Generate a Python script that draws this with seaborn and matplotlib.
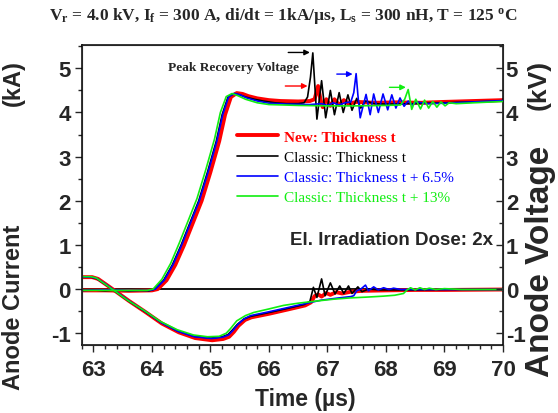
import matplotlib
matplotlib.use("Agg")
import matplotlib.pyplot as plt
import seaborn as sns
import numpy as np
import pandas as pd

# ---------------- data ----------------
# Anode voltage (kV) traces
t_v_red = [62.81, 63.2, 63.6, 64.0, 64.1, 64.25, 64.4, 64.55, 64.7, 64.85, 65.0, 65.15, 65.25, 65.35, 65.45, 65.55, 65.65, 65.8, 66.0, 66.2, 66.5, 66.7, 66.78, 66.84, 66.88, 66.92, 66.98, 67.05, 67.12, 67.2, 67.28, 67.36, 67.5, 67.8, 68.2, 68.6, 69.0, 69.5, 70.0]
v_red = [-0.03, -0.03, -0.04, -0.03, 0.0, 0.2, 0.55, 1.0, 1.5, 2.0, 2.65, 3.35, 3.95, 4.35, 4.44, 4.42, 4.37, 4.32, 4.28, 4.26, 4.25, 4.26, 4.3, 4.6, 4.3, 4.12, 4.3, 4.15, 4.3, 4.17, 4.28, 4.2, 4.24, 4.22, 4.23, 4.22, 4.24, 4.26, 4.28]

t_v_black = [62.81, 63.0, 63.2, 63.4, 63.6, 63.8, 63.95, 64.05, 64.2, 64.35, 64.5, 64.65, 64.8, 64.95, 65.1, 65.2, 65.3, 65.4, 65.5, 65.6, 65.75, 65.9, 66.1, 66.3, 66.5, 66.6, 66.66, 66.71, 66.75, 66.82, 66.90, 66.97, 67.05, 67.12, 67.20, 67.27, 67.35, 67.42, 67.50, 67.57, 67.65, 67.8, 68.0, 68.5, 69.0, 69.5, 70.0]
v_black = [-0.03, -0.02, -0.04, -0.02, -0.04, -0.03, -0.04, 0.0, 0.2, 0.55, 1.0, 1.5, 2.0, 2.65, 3.35, 3.95, 4.35, 4.43, 4.4, 4.35, 4.3, 4.26, 4.22, 4.2, 4.2, 4.22, 4.35, 4.8, 5.35, 3.85, 4.72, 3.88, 4.5, 3.95, 4.45, 4.0, 4.4, 4.05, 4.32, 4.1, 4.26, 4.2, 4.19, 4.2, 4.22, 4.24, 4.26]

t_v_blue = [62.81, 63.2, 63.6, 63.96, 64.06, 64.21, 64.36, 64.51, 64.66, 64.81, 64.96, 65.11, 65.21, 65.31, 65.41, 65.51, 65.62, 65.8, 66.0, 66.3, 66.7, 66.9, 67.0, 67.1, 67.2, 67.3, 67.4, 67.45, 67.49, 67.52, 67.56, 67.61, 67.66, 67.73, 67.79, 67.87, 67.95, 68.03, 68.1, 68.17, 68.24, 68.31, 68.38, 68.45, 68.52, 68.7, 69.0, 69.5, 70.0]
v_blue = [-0.03, -0.02, -0.03, -0.03, 0.0, 0.2, 0.55, 1.0, 1.5, 2.0, 2.65, 3.35, 3.95, 4.35, 4.43, 4.4, 4.33, 4.26, 4.21, 4.19, 4.18, 4.2, 4.16, 4.22, 4.17, 4.22, 4.24, 4.45, 4.88, 4.4, 3.88, 4.15, 4.41, 3.95, 4.42, 4.0, 4.42, 4.06, 4.4, 4.1, 4.33, 4.14, 4.26, 4.17, 4.24, 4.2, 4.21, 4.24, 4.27]

t_v_green = [62.81, 63.2, 63.6, 63.92, 64.02, 64.17, 64.32, 64.47, 64.62, 64.77, 64.92, 65.07, 65.17, 65.27, 65.37, 65.47, 65.6, 65.8, 66.0, 66.5, 67.0, 67.5, 68.0, 68.25, 68.32, 68.38, 68.44, 68.51, 68.59, 68.66, 68.73, 68.8, 68.87, 68.94, 69.01, 69.08, 69.2, 69.5, 70.0]
v_green = [-0.03, -0.03, -0.03, -0.03, 0.0, 0.22, 0.58, 1.05, 1.55, 2.05, 2.7, 3.4, 4.0, 4.36, 4.43, 4.38, 4.3, 4.22, 4.18, 4.16, 4.15, 4.15, 4.16, 4.17, 4.3, 4.52, 4.07, 4.3, 4.08, 4.28, 4.1, 4.25, 4.12, 4.24, 4.15, 4.22, 4.2, 4.22, 4.25]

# Anode current (kA) traces
t_i_red = [62.81, 62.98, 63.08, 63.21, 63.38, 63.61, 63.89, 64.17, 64.46, 64.74, 65.03, 65.22, 65.32, 65.4, 65.48, 65.59, 65.7, 66.0, 66.33, 66.62, 66.72, 66.78, 66.84, 66.9, 66.98, 67.05, 67.15, 67.25, 67.4, 67.6, 68.0, 68.5, 69.0, 70.0]
i_red = [0.27, 0.27, 0.23, 0.11, -0.05, -0.27, -0.52, -0.78, -0.98, -1.11, -1.16, -1.13, -1.08, -0.97, -0.83, -0.7, -0.64, -0.56, -0.46, -0.37, -0.3, -0.16, -0.12, -0.17, -0.09, -0.13, -0.07, -0.1, -0.06, -0.04, -0.03, -0.02, -0.02, -0.01]

t_i_black = [62.81, 62.96, 63.05, 63.19, 63.36, 63.59, 63.87, 64.15, 64.44, 64.72, 65.01, 65.2, 65.3, 65.38, 65.46, 65.57, 65.68, 65.97, 66.31, 66.6, 66.7, 66.76, 66.82, 66.9, 66.96, 67.05, 67.13, 67.21, 67.28, 67.36, 67.42, 67.52, 67.59, 67.7, 67.9, 68.5, 69.0, 70.0]
i_black = [0.27, 0.27, 0.24, 0.12, -0.04, -0.26, -0.5, -0.75, -0.95, -1.07, -1.11, -1.08, -1.03, -0.92, -0.8, -0.68, -0.62, -0.54, -0.44, -0.35, -0.28, 0.04, -0.19, 0.23, -0.15, 0.14, -0.11, 0.07, -0.1, 0.07, -0.1, 0.05, -0.06, 0.0, -0.02, -0.02, -0.01, -0.01]

t_i_blue = [62.81, 62.97, 63.06, 63.2, 63.37, 63.6, 63.88, 64.16, 64.45, 64.73, 65.02, 65.21, 65.31, 65.39, 65.47, 65.58, 65.69, 65.98, 66.32, 66.65, 66.9, 67.2, 67.4, 67.45, 67.5, 67.57, 67.65, 67.7, 67.79, 67.87, 67.96, 68.05, 68.13, 68.25, 69.0, 70.0]
i_blue = [0.27, 0.27, 0.24, 0.12, -0.04, -0.26, -0.5, -0.76, -0.96, -1.08, -1.12, -1.09, -1.04, -0.93, -0.8, -0.67, -0.6, -0.52, -0.42, -0.32, -0.25, -0.2, -0.17, -0.15, -0.04, 0.0, 0.09, -0.04, 0.05, -0.02, 0.03, -0.01, 0.02, -0.01, -0.01, -0.01]

t_i_green = [62.81, 62.96, 63.05, 63.18, 63.35, 63.58, 63.86, 64.14, 64.43, 64.71, 64.95, 65.15, 65.27, 65.34, 65.45, 65.6, 65.74, 66.0, 66.25, 66.5, 66.82, 67.1, 67.39, 67.7, 67.96, 68.15, 68.3, 68.36, 68.42, 68.5, 68.58, 68.66, 68.74, 68.85, 69.0, 69.3, 70.0]
i_green = [0.28, 0.28, 0.25, 0.13, -0.03, -0.25, -0.48, -0.73, -0.92, -1.04, -1.08, -1.07, -1.0, -0.9, -0.72, -0.6, -0.53, -0.45, -0.37, -0.32, -0.27, -0.23, -0.2, -0.18, -0.16, -0.14, -0.1, -0.02, 0.03, -0.02, 0.03, -0.01, 0.02, -0.01, 0.01, -0.01, -0.01]

labels = ["New: Thickness t", "Classic: Thickness t",
          "Classic: Thickness t + 6.5%", "Classic: Thickness t + 13%"]
colors = ["#ff0000", "#000000", "#0000ff", "#11ee11"]
widths = [2.8, 1.2, 1.2, 1.2]

x_ticks = [63, 64, 65, 66, 67, 68, 69, 70]
y_ticks = [-1, 0, 1, 2, 3, 4, 5]

# peak recovery arrows: (x_start, x_end, y)
arrow_black = (66.33, 66.70, 5.36)
arrow_red = (66.28, 66.66, 4.60)
arrow_blue = (67.16, 67.43, 4.87)
arrow_green = (68.06, 68.34, 4.57)

# ---------------- style ----------------
sns.set_style("ticks")
plt.rcParams["font.family"] = ["Liberation Sans", "DejaVu Sans"]
plt.rcParams["axes.unicode_minus"] = False
plt.rcParams["mathtext.fontset"] = "custom"
plt.rcParams["mathtext.rm"] = "Liberation Serif:bold"
plt.rcParams["mathtext.it"] = "Liberation Serif:bold"
plt.rcParams["mathtext.bf"] = "Liberation Serif:bold"

fig = plt.figure(figsize=(5.58, 4.14), dpi=100)
ax = fig.add_axes([0.1464, 0.165, 0.755, 0.724])

series_v = [(t_v_red, v_red), (t_v_black, v_black), (t_v_blue, v_blue), (t_v_green, v_green)]
series_i = [(t_i_red, i_red), (t_i_black, i_black), (t_i_blue, i_blue), (t_i_green, i_green)]

ax.axhline(0, color="black", lw=1.3, zorder=1)
for k in range(4):
    dv = pd.DataFrame({"t": series_v[k][0], "y": series_v[k][1]})
    di = pd.DataFrame({"t": series_i[k][0], "y": series_i[k][1]})
    sns.lineplot(data=dv, x="t", y="y", ax=ax, color=colors[k], lw=widths[k],
                 sort=False, estimator=None, label=labels[k], zorder=2 + k)
    sns.lineplot(data=di, x="t", y="y", ax=ax, color=colors[k], lw=widths[k],
                 sort=False, estimator=None, legend=False, zorder=2 + k)

ax.set_xlim(62.81, 70)
ax.set_ylim(-1.26, 5.53)
ax.set_xticks(x_ticks)
ax.set_yticks(y_ticks)
ax.set_xticks(np.arange(62.8, 70.01, 0.2), minor=True)
ax.set_yticks(np.arange(-1, 5.51, 0.5), minor=True)
ax.set_xlabel("")
ax.set_ylabel("")
for lab in ax.get_xticklabels() + ax.get_yticklabels():
    lab.set_fontweight("bold")
ax.tick_params(which="major", direction="out", length=5, width=1, labelsize=16, pad=3)
ax.tick_params(axis="x", which="major", pad=5)
ax.tick_params(which="minor", direction="out", length=3, width=1)
for sp in ax.spines.values():
    sp.set_linewidth(1.1)
    sp.set_color("black")

ax2 = ax.twinx()
ax2.set_ylim(-1.26, 5.53)
ax2.set_yticks(y_ticks)
ax2.set_yticks(np.arange(-1, 5.51, 0.5), minor=True)
for lab in ax2.get_yticklabels():
    lab.set_fontweight("bold")
ax2.tick_params(which="major", direction="in", length=5, width=1, labelsize=16, pad=2)
ax2.tick_params(which="minor", direction="in", length=3, width=1)

# legend
leg = ax.legend(loc="upper left", bbox_to_anchor=(0.3686, 0.716), frameon=False,
                borderpad=0, borderaxespad=0, handlelength=2.7, handletextpad=0.35,
                labelspacing=0.42, prop={"family": "Liberation Serif", "size": 11})
for txt, c in zip(leg.get_texts(), colors):
    txt.set_color(c)
leg.get_texts()[0].set_fontweight("bold")

# arrows
for (x0, x1, y), c in zip([arrow_black, arrow_red, arrow_blue, arrow_green],
                          ["#000000", "#ff0000", "#0000ff", "#11ee11"]):
    ax.annotate("", xy=(x1, y), xytext=(x0, y),
                arrowprops=dict(arrowstyle="-|>", color=c, lw=1.0, mutation_scale=8,
                                shrinkA=0, shrinkB=0))

ax.text(64.27, 5.02, "Peak Recovery Voltage", fontsize=9.6, fontweight="bold",
        family="Liberation Serif", ha="left", va="center")
ax.text(69.83, 1.13, "El. Irradiation Dose: 2x", fontsize=13.5, fontweight="bold",
        ha="right", va="center")

# title & axis labels
fig.text(0.507, 0.961,
         r"V$_\mathrm{r}$ = 4.0 kV, I$_\mathrm{f}$ = 300 A, di/dt = 1kA/µs, L$_\mathrm{s}$ = 300 nH, T = 125 $^\mathrm{o}$C",
         family="Liberation Serif", fontweight="bold", fontsize=12.5, ha="center", va="center")
fig.text(0.5466, 0.036, "Time (µs)", fontsize=16.5, fontweight="bold", ha="center", va="center")
fig.text(0.0233, 0.2585, "Anode Current", fontsize=17, fontweight="bold", rotation=90,
         ha="center", va="center")
fig.text(0.0233, 0.7995, "(kA)", fontsize=17, fontweight="bold", rotation=90,
         ha="center", va="center")
fig.text(0.968, 0.368, "Anode Voltage", fontsize=24, fontweight="bold", rotation=90,
         ha="center", va="center")
fig.text(0.966, 0.795, "(kV)", fontsize=19, fontweight="bold", rotation=90,
         ha="center", va="center")

fig.savefig("out.png", dpi=100)
